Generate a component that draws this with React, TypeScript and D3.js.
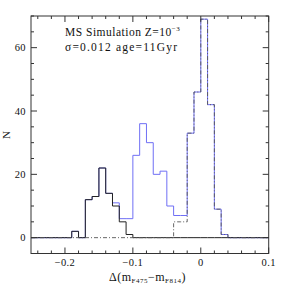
import React from "react";
import * as d3 from "d3";

// histogram bins are 0.01 wide; each series keeps the left edge of its first bin
const BIN = 0.01;

const blackStart = -0.25;
const blackCounts = [0, 0, 0, 0, 0, 0, 2, 0, 12, 13, 22, 14, 10, 5, 1, 0, 0, 0, 0, 0, 0, 0, 0, 0, 0, 0, 0, 0, 0, 0, 0, 0, 0, 0, 0];

const blueStart = -0.19;
const blueCounts = [2, 0, 12, 13, 22, 14, 11, 6, 6, 26, 36, 30, 20, 21, 10, 7, 7, 33, 46, 69, 42, 9, 1];

const peakStart = -0.04;
const peakCounts = [5, 5, 33, 46, 69, 42, 9, 1];

const xMajor = [-0.2, -0.1, 0, 0.1];
const xMinor = [-0.24, -0.22, -0.18, -0.16, -0.14, -0.12, -0.08, -0.06, -0.04, -0.02, 0.02, 0.04, 0.06, 0.08];
const yMajor = [0, 20, 40, 60];
const yMinor = [-5, 5, 10, 15, 25, 30, 35, 45, 50, 55, 65, 70];

const W = 284;
const H = 284;
const FONT = "'Liberation Serif', serif";

const x = d3.scaleLinear().domain([-0.25, 0.1]).range([31, 268.7]);
const y = d3.scaleLinear().domain([-5, 70]).range([253.5, 16]);

type Pt = [number, number];

function stepPoints(start: number, counts: number[]): Pt[] {
  const [x0, x1] = x.domain();
  const pts: Pt[] = [];
  if (start > x0) pts.push([x0, 0]);
  counts.forEach((c, i) => pts.push([start + i * BIN, c]));
  const end = start + counts.length * BIN;
  if (end < x1 - 1e-9) pts.push([end, 0]);
  pts.push([x1, 0]);
  return pts;
}

const line = d3
  .line<Pt>()
  .x((d) => x(d[0]))
  .y((d) => y(d[1]))
  .curve(d3.curveStepAfter);

const fmt = (v: number) => (v === 0 ? "0" : d3.format(".1f")(v).replace("-", "\u2212"));

export default function App() {
  const left = x.range()[0];
  const right = x.range()[1];
  const top = y.range()[1];
  const bottom = y.range()[0];
  const frame = "#333";

  return (
    <svg
      width={W}
      height={H}
      style={{ position: "absolute", left: 0, top: 0, background: "#fff" }}
      fontFamily={FONT}
    >
      {/* histograms */}
      <path d={line(stepPoints(blueStart, blueCounts)) || ""} fill="none" stroke="#6f6ff5" strokeWidth={1} />
      <path d={line(stepPoints(blackStart, blackCounts)) || ""} fill="none" stroke="#222" strokeWidth={1} />
      <path
        d={line(stepPoints(peakStart, peakCounts)) || ""}
        fill="none"
        stroke="#555"
        strokeWidth={0.9}
        strokeDasharray="4,2,1,2"
      />

      {/* frame */}
      <rect x={left} y={top} width={right - left} height={bottom - top} fill="none" stroke={frame} strokeWidth={1} />

      {/* x ticks */}
      {xMajor.map((v) => (
        <g key={"xM" + v}>
          <line x1={x(v)} x2={x(v)} y1={bottom} y2={bottom - 6} stroke={frame} />
          <line x1={x(v)} x2={x(v)} y1={top} y2={top + 6} stroke={frame} />
          <text x={x(v)} y={266} fontSize={10.5} letterSpacing={0.4} textAnchor="middle" fill="#111">
            {fmt(v)}
          </text>
        </g>
      ))}
      {xMinor.map((v) => (
        <g key={"xm" + v}>
          <line x1={x(v)} x2={x(v)} y1={bottom} y2={bottom - 3} stroke={frame} />
          <line x1={x(v)} x2={x(v)} y1={top} y2={top + 3} stroke={frame} />
        </g>
      ))}

      {/* y ticks */}
      {yMajor.map((v) => (
        <g key={"yM" + v}>
          <line x1={left} x2={left + 6} y1={y(v)} y2={y(v)} stroke={frame} />
          <line x1={right} x2={right - 6} y1={y(v)} y2={y(v)} stroke={frame} />
          <text x={26} y={y(v) + 3.8} fontSize={10.5} letterSpacing={0.4} textAnchor="end" fill="#111">
            {v}
          </text>
        </g>
      ))}
      {yMinor.map((v) => (
        <g key={"ym" + v}>
          <line x1={left} x2={left + 3} y1={y(v)} y2={y(v)} stroke={frame} />
          <line x1={right} x2={right - 3} y1={y(v)} y2={y(v)} stroke={frame} />
        </g>
      ))}

      {/* axis titles */}
      <text transform="translate(10,135) rotate(-90)" fontSize={11} textAnchor="middle" fill="#111">
        N
      </text>
      <text x={147.5} y={281} fontSize={12} letterSpacing={0.5} textAnchor="middle" fill="#111">
        Δ(m
        <tspan fontSize={7} dy={2}>F475</tspan>
        <tspan dy={-2}>−m</tspan>
        <tspan fontSize={7} dy={2}>F814</tspan>
        <tspan dy={-2}>)</tspan>
      </text>

      {/* annotation */}
      <text x={65} y={36} fontSize={11.5} letterSpacing={0.5} fill="#111">
        MS Simulation Z=10
        <tspan fontSize={7} dy={-5}>−3</tspan>
      </text>
      <text x={65} y={51} fontSize={11.5} letterSpacing={1.2} fill="#111">
        σ=0.012 age=11Gyr
      </text>
    </svg>
  );
}
